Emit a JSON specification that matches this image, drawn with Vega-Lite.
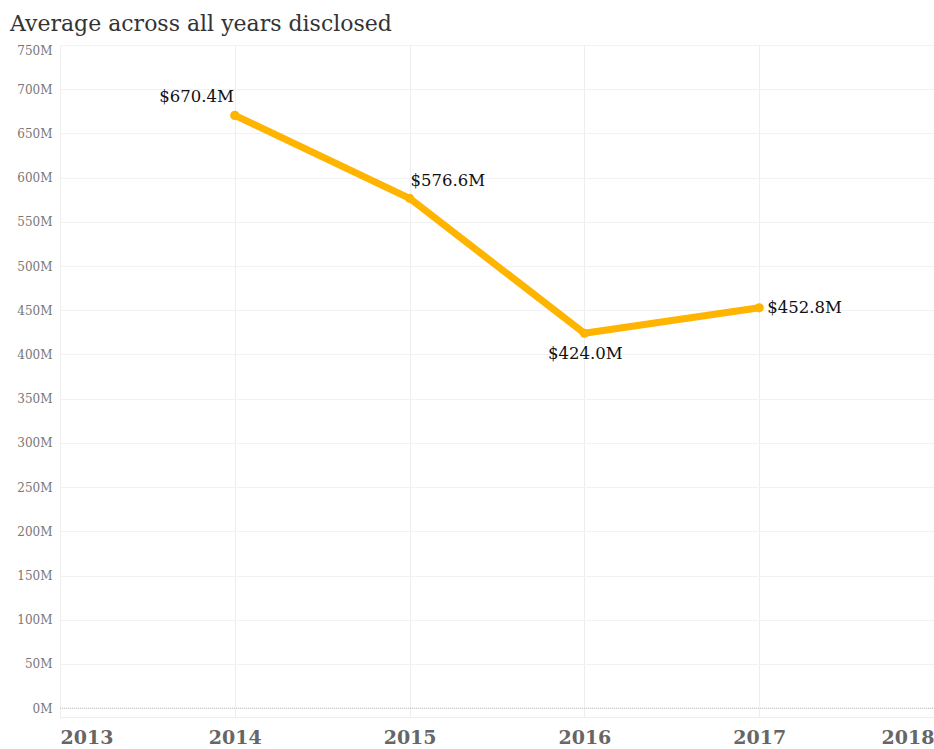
{
  "$schema": "https://vega.github.io/schema/vega-lite/v6.json",
  "width": 874,
  "height": 672,
  "autosize": {"type": "none"},
  "padding": {"left": 60, "top": 45, "right": 0, "bottom": 32},
  "background": "white",
  "title": {
    "text": "Average across all years disclosed",
    "anchor": "start",
    "frame": "group",
    "dx": -50,
    "offset": 8,
    "font": "DejaVu Serif",
    "fontSize": 22,
    "fontWeight": "normal",
    "color": "#333333"
  },
  "config": {
    "view": {"stroke": null},
    "font": "DejaVu Serif"
  },
  "data": {
    "values": [
      {"year": 2014, "value": 670.4},
      {"year": 2015, "value": 576.6},
      {"year": 2016, "value": 424.0},
      {"year": 2017, "value": 452.8}
    ]
  },
  "transform": [
    {"calculate": "'$' + format(datum.value, '.1f') + 'M'", "as": "label"}
  ],
  "encoding": {
    "x": {
      "field": "year",
      "type": "quantitative",
      "scale": {"domain": [2013, 2018], "nice": false, "zero": false},
      "axis": {
        "title": null,
        "values": [2013, 2014, 2015, 2016, 2017, 2018],
        "format": "d",
        "labelFlush": true,
        "labelFont": "DejaVu Serif",
        "labelFontSize": 19,
        "labelFontWeight": "bold",
        "labelColor": "#666666",
        "labelPadding": 11,
        "ticks": false,
        "domain": true,
        "domainColor": "#eeeeee",
        "domainWidth": 1,
        "grid": true,
        "gridColor": "#eeeeee",
        "gridWidth": 1
      }
    },
    "y": {
      "field": "value",
      "type": "quantitative",
      "scale": {"domain": [-10, 750], "nice": false, "zero": false},
      "axis": {
        "title": null,
        "values": [0, 50, 100, 150, 200, 250, 300, 350, 400, 450, 500, 550, 600, 650, 700, 750],
        "labelExpr": "datum.value + 'M'",
        "labelFlush": true,
        "labelFont": "DejaVu Serif",
        "labelFontSize": 12,
        "labelColor": "#777777",
        "labelPadding": 8,
        "ticks": false,
        "domain": false,
        "grid": true,
        "gridColor": "#f2f2f2",
        "gridWidth": 1
      }
    }
  },
  "layer": [
    {
      "data": {"values": [{"zero": 0}]},
      "transform": [],
      "mark": {"type": "rule", "color": "#bbbbbb", "strokeDash": [1, 1], "strokeWidth": 1},
      "encoding": {"y": {"field": "zero", "type": "quantitative"}, "x": {"value": 0}, "x2": {"value": 874}}
    },
    {
      "mark": {"type": "line", "color": "#FFB400", "strokeWidth": 7, "strokeCap": "round", "strokeJoin": "round"}
    },
    {
      "mark": {"type": "point", "filled": true, "color": "#FFB400", "size": 85, "opacity": 1}
    },
    {
      "transform": [{"filter": "datum.year == 2014"}],
      "mark": {"type": "text", "align": "right", "baseline": "middle", "dx": -1, "dy": -18, "fontSize": 16.5, "color": "#111111"},
      "encoding": {"text": {"field": "label"}}
    },
    {
      "transform": [{"filter": "datum.year == 2015"}],
      "mark": {"type": "text", "align": "left", "baseline": "middle", "dx": 1, "dy": -17, "fontSize": 16.5, "color": "#111111"},
      "encoding": {"text": {"field": "label"}}
    },
    {
      "transform": [{"filter": "datum.year == 2016"}],
      "mark": {"type": "text", "align": "center", "baseline": "middle", "dx": 1, "dy": 21, "fontSize": 16.5, "color": "#111111"},
      "encoding": {"text": {"field": "label"}}
    },
    {
      "transform": [{"filter": "datum.year == 2017"}],
      "mark": {"type": "text", "align": "left", "baseline": "middle", "dx": 8, "dy": 0, "fontSize": 16.5, "color": "#111111"},
      "encoding": {"text": {"field": "label"}}
    }
  ]
}
